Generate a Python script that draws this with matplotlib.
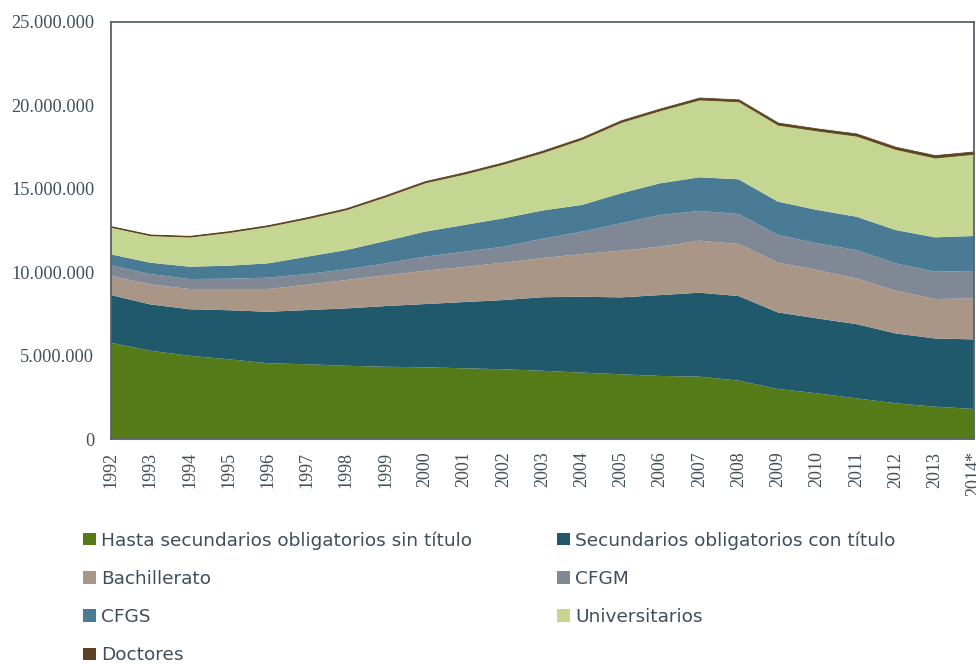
import matplotlib
matplotlib.use("Agg")
from matplotlib import pyplot as plt
from matplotlib.patches import Patch
from matplotlib.ticker import FuncFormatter

years = list(range(1992, 2015))
year_labels = [str(y) for y in years[:-1]] + ["2014*"]

# millones de personas
sin_titulo = [5.77, 5.29, 4.99, 4.78, 4.54, 4.48, 4.39, 4.33, 4.30, 4.24, 4.18, 4.09,
              3.98, 3.88, 3.78, 3.74, 3.50, 3.00, 2.74, 2.44, 2.14, 1.94, 1.80]
con_titulo = [2.86, 2.78, 2.79, 2.94, 3.09, 3.25, 3.44, 3.64, 3.79, 3.97, 4.15, 4.41,
              4.55, 4.61, 4.85, 5.03, 5.07, 4.59, 4.49, 4.45, 4.19, 4.09, 4.17]
bachillerato = [1.14, 1.20, 1.21, 1.27, 1.36, 1.52, 1.70, 1.84, 2.00, 2.10, 2.24, 2.35,
                2.56, 2.80, 2.90, 3.12, 3.12, 2.98, 2.90, 2.74, 2.56, 2.36, 2.46]
cfgm = [0.64, 0.62, 0.60, 0.62, 0.68, 0.64, 0.64, 0.72, 0.84, 0.92, 0.96, 1.15,
        1.34, 1.64, 1.90, 1.78, 1.80, 1.66, 1.60, 1.70, 1.64, 1.64, 1.64]
cfgs = [0.66, 0.68, 0.74, 0.78, 0.86, 1.04, 1.16, 1.34, 1.50, 1.60, 1.70, 1.70,
        1.60, 1.80, 1.90, 2.02, 2.08, 2.00, 2.00, 2.00, 2.00, 2.06, 2.10]
universitarios = [1.65, 1.65, 1.81, 2.02, 2.24, 2.31, 2.45, 2.68, 2.96, 3.08, 3.28, 3.50,
                  3.96, 4.28, 4.39, 4.67, 4.68, 4.62, 4.77, 4.86, 4.86, 4.79, 4.93]
doctores = [0.04, 0.04, 0.04, 0.05, 0.05, 0.06, 0.06, 0.07, 0.07, 0.08, 0.08, 0.09,
            0.09, 0.10, 0.10, 0.11, 0.11, 0.12, 0.12, 0.13, 0.13, 0.14, 0.14]

labels = ["Hasta secundarios obligatorios sin título", "Secundarios obligatorios con título",
          "Bachillerato", "CFGM", "CFGS", "Universitarios", "Doctores"]
colors = ["#557A18", "#20596B", "#A99686", "#808896", "#4A7B94", "#C5D592", "#5E4322"]

series = [sin_titulo, con_titulo, bachillerato, cfgm, cfgs, universitarios, doctores]
series = [[v * 1e6 for v in s] for s in series]

txt = "#404E59"
fig = plt.figure(figsize=(9.76, 6.64), dpi=100)
ax = fig.add_axes([111 / 976, 1 - 439 / 664, 863 / 976, 417 / 664])

polys = ax.stackplot(years, *series, colors=colors, linewidth=0)
polys[-1].set_edgecolor(colors[-1])
polys[-1].set_linewidth(0.6)

ax.set_xlim(1992, 2014)
ax.set_ylim(0, 25e6)
ax.set_yticks([0, 5e6, 10e6, 15e6, 20e6, 25e6])
ax.yaxis.set_major_formatter(FuncFormatter(lambda v, p: f"{int(v):,}".replace(",", ".")))
ax.set_xticks(years)
ax.set_xticklabels(year_labels, rotation=90)

for lab in ax.get_yticklabels():
    lab.set_fontfamily("Liberation Serif")
    lab.set_fontsize(13.2)
    lab.set_color(txt)
for lab in ax.get_xticklabels():
    lab.set_fontfamily("Liberation Serif")
    lab.set_fontsize(13)
    lab.set_color(txt)
ax.tick_params(axis="both", length=0)
ax.tick_params(axis="y", pad=12)
ax.tick_params(axis="x", pad=9)
for sp in ax.spines.values():
    sp.set_color("#56626C")
    sp.set_linewidth(1.3)

handles = [Patch(facecolor=c, edgecolor="none") for c in colors]
left_idx = [0, 2, 4, 6]
right_idx = [1, 3, 5]
common = dict(frameon=False, fontsize=13.3, handlelength=0.68, handleheight=0.68,
              handletextpad=0.3, labelspacing=1.1, labelcolor=txt, borderaxespad=0,
              borderpad=0)
fig.legend([handles[i] for i in left_idx], [labels[i] for i in left_idx],
           loc="upper left", bbox_to_anchor=(83 / 976, 1 - 531 / 664), **common)
fig.legend([handles[i] for i in right_idx], [labels[i] for i in right_idx],
           loc="upper left", bbox_to_anchor=(557 / 976, 1 - 531 / 664), **common)

fig.savefig("out.png", dpi=100)
